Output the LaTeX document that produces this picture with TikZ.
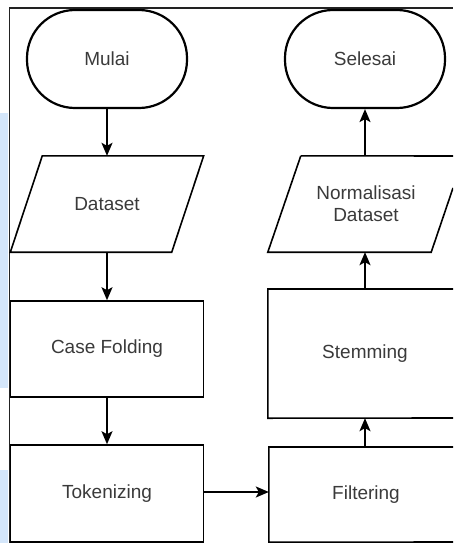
\documentclass[tikz,border=0pt]{standalone}
\usepackage{fontspec}
\setmainfont{Liberation Sans}
\usetikzlibrary{arrows.meta,calc}
\definecolor{txt}{HTML}{3A3A3A}
\definecolor{sidebar}{HTML}{D4E6FA}
\definecolor{framegray}{HTML}{222222}
\begin{document}
\begin{tikzpicture}[x=1pt,y=-1pt,
  base/.style={font=\fontsize{19}{22}\selectfont, text=txt, align=center, inner sep=0pt},
  terminal/.style={base, draw=black, line width=2.2pt, rounded corners=48pt,
                   minimum width=160pt, minimum height=98pt},
  procbox/.style={base, draw=black, line width=1.6pt,
                  minimum width=193pt, minimum height=96pt},
  cutbox/.style={base, minimum width=194pt, minimum height=96pt},
  iobox/.style={base, minimum width=193pt, minimum height=96pt},
  outline/.style={draw=black, line width=1.6pt, line join=miter},
  flow/.style={draw=black, line width=1.6pt,
               -{Stealth[length=13pt,width=11pt,inset=3pt]}},
  frameline/.style={draw=framegray, line width=1.6pt}
]
\useasboundingbox (0,0) rectangle (453,543);
\begin{scope}
\clip (0,0) rectangle (453,543);

% side strip
\fill[sidebar] (0,113) rectangle (8,388);
\fill[sidebar] (0,470) rectangle (8,543);

% outer frame
\draw[frameline] (9.5,548) -- (9.5,8) -- (453,8);

% left column
\node[terminal] (mulai) at (107,59) {Mulai};
\node[iobox] (ds) at (107,204) {Dataset};
\draw[outline] ($(ds.north west)+(32,0)$) -- (ds.north east)
  -- ($(ds.south east)+(-32,0)$) -- (ds.south west) -- cycle;
\node[procbox] (cf) at (107,349) {Case Folding};
\node[procbox, minimum height=97pt] (tok) at (107,493.5) {Tokenizing};

% right column, running past the right edge of the sheet
\node[terminal] (selesai) at (365,59) {Selesai};
\node[iobox, minimum width=196pt] (norm) at (366,204) {Normalisasi\\Dataset};
\draw[outline] ($(norm.north west)+(33,0)$) -- (453,156);
\draw[outline] (453,188) -- ($(norm.south east)+(-33,0)$) -- (norm.south west)
  -- ($(norm.north west)+(33,0)$);
\node[cutbox, minimum height=129pt] (stem) at (365,353.5) {Stemming};
\draw[outline] (453,289) -| (stem.south west) -- (453,418);
\node[cutbox, minimum height=95pt] (filt) at (366,494.5) {Filtering};
\draw[outline] (453,447) -| (filt.south west) -- (453,542);

% connectors
\draw[flow] (mulai.south) -- (mulai.south |- ds.north);
\draw[flow] (ds.south) -- (ds.south |- cf.north);
\draw[flow] (cf.south) -- (cf.south |- tok.north);
\draw[flow] (tok.east |- 0,492) -- (filt.west |- 0,492);
\draw[flow] (stem.south |- filt.north) -- (stem.south);
\draw[flow] (stem.north) -- (stem.north |- norm.south);
\draw[flow] (selesai.south |- norm.north) -- (selesai.south);
\end{scope}
\end{tikzpicture}
\end{document}
